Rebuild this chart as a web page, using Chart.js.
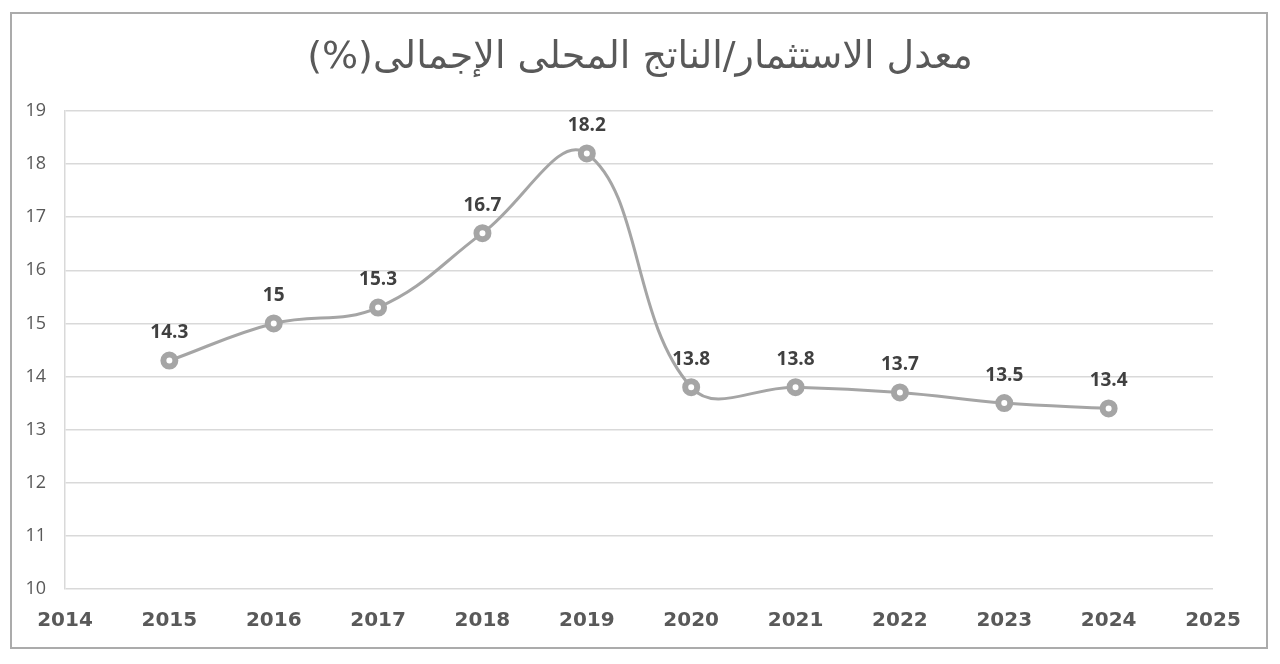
<!DOCTYPE html>
<html>
<head>
<meta charset="utf-8">
<script src="https://cdn.jsdelivr.net/npm/chart.js@4"></script>
<style>
  html, body { margin: 0; padding: 0; background: #fff; }
  #wrap { width: 1280px; height: 664px; }
</style>
</head>
<body>
<div id="wrap"><canvas id="chart" width="1280" height="664"></canvas></div>
<script>
// data
const chartTitle = 'معدل الاستثمار/الناتج المحلى الإجمالى(%)';
const years = [2015, 2016, 2017, 2018, 2019, 2020, 2021, 2022, 2023, 2024];
const rates = [14.3, 15, 15.3, 16.7, 18.2, 13.8, 13.8, 13.7, 13.5, 13.4];
const xRange = [2014, 2025];
const yRange = [10, 19];

// white page + outer frame
const framePlugin = {
    id: 'frame',
    beforeDraw(chart) {
        const ctx = chart.ctx;
        ctx.save();
        ctx.fillStyle = '#fff';
        ctx.fillRect(0, 0, chart.width, chart.height);
        ctx.strokeStyle = '#ababab';
        ctx.lineWidth = 2;
        ctx.strokeRect(11, 13, 1256, 635);
        ctx.restore();
    }
};

// value labels above each point
const valueLabels = {
    id: 'valueLabels',
    afterDatasetsDraw(chart) {
        const ctx = chart.ctx;
        const meta = chart.getDatasetMeta(0);
        ctx.save();
        ctx.font = 'bold 19px "Open Sans"';
        ctx.fillStyle = '#404040';
        ctx.textAlign = 'center';
        ctx.textBaseline = 'middle';
        meta.data.forEach((pt, i) => {
            ctx.fillText(String(rates[i]), pt.x, pt.y - 28);
        });
        ctx.restore();
    }
};

new Chart(document.getElementById('chart').getContext('2d'), {
    type: 'line',
    data: {
        datasets: [{
            data: years.map((y, i) => ({ x: y, y: rates[i] })),
            borderColor: '#a5a5a5',
            borderWidth: 3,
            tension: 0.4,
            pointRadius: 6,
            pointBorderWidth: 6,
            pointBackgroundColor: '#fff',
            pointBorderColor: '#a5a5a5',
            fill: false
        }]
    },
    options: {
        responsive: false,
        animation: false,
        devicePixelRatio: 1,
        layout: { padding: { top: 35, right: 0, bottom: 0, left: 0 } },
        plugins: {
            legend: { display: false },
            tooltip: { enabled: false },
            title: {
                display: true,
                // RLE ... PDF keeps the Arabic title in right-to-left order
                text: '\u202B' + chartTitle + '\u202C',
                color: '#595959',
                font: { family: '"DejaVu Sans"', size: 38, weight: 'normal', lineHeight: 1.2 },
                padding: { top: 0, bottom: 30.4 }
            }
        },
        scales: {
            x: {
                type: 'linear',
                min: xRange[0],
                max: xRange[1],
                afterFit(scale) { scale.height = 75; },
                grid: { display: false, drawTicks: false },
                border: { display: false },
                ticks: {
                    stepSize: 1,
                    padding: 20,
                    color: '#595959',
                    font: { family: '"DejaVu Sans"', size: 20, weight: 'bold' },
                    callback: v => String(v)
                }
            },
            y: {
                min: yRange[0],
                max: yRange[1],
                afterFit(scale) { scale.width = 65; },
                grid: { color: '#d9d9d9', lineWidth: 1.5, drawTicks: false },
                border: { display: true, color: '#d9d9d9', width: 1.5 },
                ticks: {
                    stepSize: 1,
                    padding: 19,
                    color: '#595959',
                    font: { family: '"Open Sans"', size: 18 }
                }
            },
            // empty right-hand margin so the title stays centred on the page
            yRight: {
                position: 'right',
                min: yRange[0],
                max: yRange[1],
                afterFit(scale) { scale.width = 67; },
                grid: { display: false, drawTicks: false },
                border: { display: false },
                ticks: { display: false }
            }
        }
    },
    plugins: [framePlugin, valueLabels]
});
</script>
</body>
</html>
